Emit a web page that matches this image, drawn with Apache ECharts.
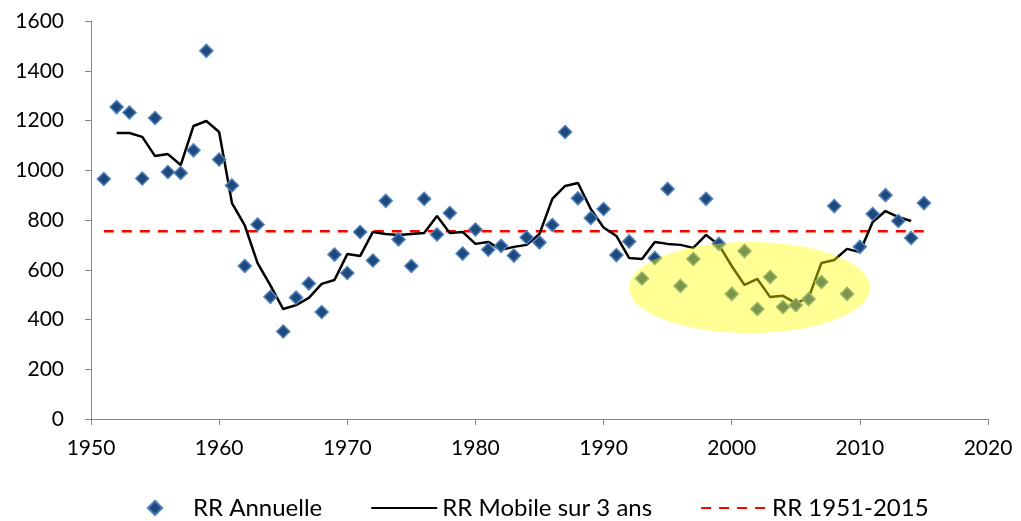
<!DOCTYPE html>
<html>
<head>
<meta charset="utf-8">
<script src="https://cdn.jsdelivr.net/npm/echarts@6/dist/echarts.min.js"></script>
</head>
<body style="margin:0; padding:0; background:#fff;">
<div id="chart" style="width:1021px; height:521px;"></div>
<script type="text/javascript">
// annual values, 1951-2015
var years = [];
for (var y = 1951; y <= 2015; y++) years.push(y);
var rrAnnuelle = [
	965, 1254, 1232, 967, 1210, 993, 989, 1080, 1480, 1043,
	939, 615, 782, 491, 352, 488, 545, 430, 661, 587,
	752, 637, 877, 722, 615, 885, 742, 828, 665, 762,
	681, 696, 657, 730, 710, 780, 1154, 887, 808, 844,
	659, 714, 565, 647, 925, 535, 643, 885, 704, 503,
	675, 442, 571, 450, 458, 482, 551, 856, 503, 692,
	824, 900, 796, 728, 868
];
// 3-year moving average, 1952-2014
var mobileYears = years.slice(1, 64);
var rrMobile = [
	1150, 1150, 1134, 1057, 1065, 1021, 1178, 1198, 1154, 868,
	778, 627, 537, 442, 458, 487, 543, 559, 663, 655,
	752, 744, 740, 744, 748, 816, 748, 752, 704, 712,
	680, 692, 700, 744, 885, 937, 949, 844, 770, 736,
	647, 643, 712, 704, 700, 688, 740, 700, 615, 539,
	563, 490, 495, 466, 487, 627, 639, 684, 671, 792,
	836, 812, 796
];
// long-term mean
var meanYears = [1951, 2015];
var rrMean = [755, 755];

var seriesNames = ['RR Annuelle', 'RR Mobile sur 3 ans', 'RR 1951-2015'];

function zip(xs, ys) {
	return xs.map(function (x, i) { return [x, ys[i]]; });
}

var font = 'Lato, "Liberation Sans", sans-serif';
var noMarker = { opacity: 0 };

var option = {
	animation: false,
	grid: { left: 91, right: 33, top: 21, bottom: 102 },
	legend: {
		data: [
			{ name: seriesNames[0], lineStyle: { opacity: 0 } },
			{ name: seriesNames[1], itemStyle: noMarker },
			{ name: seriesNames[2], itemStyle: noMarker }
		],
		left: 117,
		top: 491,
		itemWidth: 66,
		itemHeight: 18,
		itemGap: 48,
		textStyle: { fontFamily: font, fontSize: 24, color: '#000' }
	},
	xAxis: {
		type: 'value',
		min: 1950,
		max: 2020,
		interval: 10,
		splitLine: { show: false },
		axisLine: { lineStyle: { color: '#868686', width: 1 } },
		axisTick: { show: true, length: 6, lineStyle: { color: '#868686' } },
		axisLabel: {
			margin: 19,
			fontFamily: font,
			fontSize: 21,
			color: '#000',
			formatter: function (v) { return String(v); }
		}
	},
	yAxis: {
		type: 'value',
		min: 0,
		max: 1600,
		interval: 200,
		splitLine: { show: false },
		axisLine: { show: true, lineStyle: { color: '#868686', width: 1 } },
		axisTick: { show: true, length: 6, lineStyle: { color: '#868686' } },
		axisLabel: {
			margin: 27,
			fontFamily: font,
			fontSize: 21,
			color: '#000',
			formatter: function (v) { return String(v); }
		}
	},
	series: [
		{
			name: seriesNames[0],
			type: 'line',
			symbol: 'diamond',
			symbolSize: 13,
			showAllSymbol: true,
			data: zip(years, rrAnnuelle),
			lineStyle: { width: 0, opacity: 0 },
			itemStyle: { color: '#1F497D', borderColor: '#4F81BD', borderWidth: 1.5 },
			z: 3
		},
		{
			name: seriesNames[1],
			type: 'line',
			symbol: 'none',
			data: zip(mobileYears, rrMobile),
			lineStyle: { color: '#000', width: 2.5 },
			itemStyle: { color: '#000' },
			z: 2
		},
		{
			name: seriesNames[2],
			type: 'line',
			symbol: 'none',
			data: zip(meanYears, rrMean),
			lineStyle: { color: '#FF0000', width: 2.5, type: [10, 8] },
			itemStyle: { color: '#FF0000' },
			z: 1
		}
	]
};

var myChart = echarts.init(document.getElementById('chart'));
myChart.setOption(option);

// highlighted period (ellipse drawn over the marks), in data units
var ellipseCenter = [2001.4, 529];
var ellipseRadius = [9.4, 183];
var c = myChart.convertToPixel({ gridIndex: 0 }, ellipseCenter);
var e = myChart.convertToPixel({ gridIndex: 0 }, [ellipseCenter[0] + ellipseRadius[0], ellipseCenter[1] + ellipseRadius[1]]);
myChart.setOption({
	graphic: [{
		type: 'ellipse',
		shape: { cx: c[0], cy: c[1], rx: Math.abs(e[0] - c[0]), ry: Math.abs(c[1] - e[1]) },
		style: { fill: 'rgba(255,255,0,0.42)' },
		z: 100,
		silent: true
	}]
});
</script>
</body>
</html>
